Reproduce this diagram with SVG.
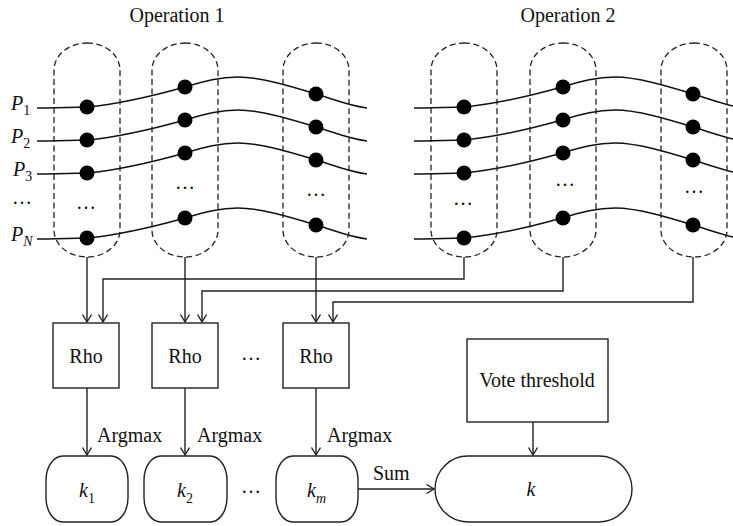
<svg xmlns="http://www.w3.org/2000/svg" width="733" height="526" viewBox="0 0 733 526">
<style>
text{font-family:"Liberation Serif","Times New Roman",serif;font-size:20px;fill:#111}
.it{font-style:italic}
.sub{font-size:14px;font-style:normal}
.subi{font-size:14px;font-style:italic}
.cap{fill:none;stroke:#222;stroke-width:1.3;stroke-dasharray:6 3.5}
.box{fill:#fff;stroke:#222;stroke-width:1.4}
.wire{fill:none;stroke:#111;stroke-width:1.4}
.dot{fill:#000}
.con{fill:none;stroke:#222;stroke-width:1.4}
</style>
<defs>
<marker id="ah" markerUnits="userSpaceOnUse" markerWidth="14" markerHeight="12" refX="9" refY="5" orient="auto">
<path d="M1.5,0.5 L9,5 L1.5,9.5" fill="none" stroke="#222" stroke-width="1.4"/>
</marker>
<path id="w" d="M37,0 C60,0 70,-0.5 87,-1 C120,-4 160,-14 185,-21 C205,-27 220,-31 238,-31 C260,-31 290,-22 316,-14 C336,-8 350,-2 367,0"/>
</defs>

<text x="177" y="22" text-anchor="middle">Operation 1</text>
<text x="568" y="22" text-anchor="middle">Operation 2</text>

<g id="wires">
<use href="#w" class="wire" transform="translate(0,108)"/>
<use href="#w" class="wire" transform="translate(0,141)"/>
<use href="#w" class="wire" transform="translate(0,174)"/>
<use href="#w" class="wire" transform="translate(0,239)"/>
<use href="#w" class="wire" transform="translate(377,108)"/>
<use href="#w" class="wire" transform="translate(377,141)"/>
<use href="#w" class="wire" transform="translate(377,174)"/>
<use href="#w" class="wire" transform="translate(377,239)"/>
</g>

<g id="labels">
<text class="it" x="11" y="110">P<tspan class="sub" dy="5">1</tspan></text>
<text class="it" x="11" y="143">P<tspan class="sub" dy="5">2</tspan></text>
<text class="it" x="13" y="176">P<tspan class="sub" dy="5">3</tspan></text>
<text x="12" y="204">…</text>
<text class="it" x="11" y="241">P<tspan class="subi" dy="5">N</tspan></text>
</g>

<g id="op1-col1">
<rect class="cap" x="54" y="43" width="66" height="214" rx="33" ry="27"/>
<circle class="dot" cx="87" cy="107" r="7.5"/>
<circle class="dot" cx="87" cy="140" r="7.5"/>
<circle class="dot" cx="87" cy="173" r="7.5"/>
<circle class="dot" cx="87" cy="238" r="7.5"/>
<text x="86" y="209" text-anchor="middle">…</text>
</g>
<g id="op1-col2">
<rect class="cap" x="152" y="43" width="66" height="214" rx="33" ry="27"/>
<circle class="dot" cx="185" cy="87" r="7.5"/>
<circle class="dot" cx="185" cy="120" r="7.5"/>
<circle class="dot" cx="185" cy="153" r="7.5"/>
<circle class="dot" cx="185" cy="218" r="7.5"/>
<text x="185" y="189" text-anchor="middle">…</text>
</g>
<g id="op1-col3">
<rect class="cap" x="283" y="43" width="66" height="214" rx="33" ry="27"/>
<circle class="dot" cx="316" cy="94" r="7.5"/>
<circle class="dot" cx="316" cy="127" r="7.5"/>
<circle class="dot" cx="316" cy="160" r="7.5"/>
<circle class="dot" cx="316" cy="225" r="7.5"/>
<text x="316" y="196" text-anchor="middle">…</text>
</g>
<g id="op2-col1">
<rect class="cap" x="431" y="43" width="66" height="214" rx="33" ry="27"/>
<circle class="dot" cx="464" cy="107" r="7.5"/>
<circle class="dot" cx="464" cy="140" r="7.5"/>
<circle class="dot" cx="464" cy="173" r="7.5"/>
<circle class="dot" cx="464" cy="238" r="7.5"/>
<text x="463" y="205" text-anchor="middle">…</text>
</g>
<g id="op2-col2">
<rect class="cap" x="530" y="43" width="66" height="214" rx="33" ry="27"/>
<circle class="dot" cx="563" cy="87" r="7.5"/>
<circle class="dot" cx="563" cy="120" r="7.5"/>
<circle class="dot" cx="563" cy="153" r="7.5"/>
<circle class="dot" cx="563" cy="218" r="7.5"/>
<text x="565" y="186" text-anchor="middle">…</text>
</g>
<g id="op2-col3">
<rect class="cap" x="661" y="43" width="66" height="214" rx="33" ry="27"/>
<circle class="dot" cx="693" cy="94" r="7.5"/>
<circle class="dot" cx="693" cy="127" r="7.5"/>
<circle class="dot" cx="693" cy="160" r="7.5"/>
<circle class="dot" cx="693" cy="225" r="7.5"/>
<text x="694" y="193" text-anchor="middle">…</text>
</g>

<g id="connectors">
<path class="con" d="M87,257 V322" marker-end="url(#ah)"/>
<path class="con" d="M185,257 V322" marker-end="url(#ah)"/>
<path class="con" d="M316,257 V322" marker-end="url(#ah)"/>
<path class="con" d="M464,257 V279 H103 V322" marker-end="url(#ah)"/>
<path class="con" d="M563,257 V291 H202 V322" marker-end="url(#ah)"/>
<path class="con" d="M693,257 V302 H333 V322" marker-end="url(#ah)"/>
<path class="con" d="M87,388 V455" marker-end="url(#ah)"/>
<path class="con" d="M185,388 V455" marker-end="url(#ah)"/>
<path class="con" d="M316,388 V455" marker-end="url(#ah)"/>
<path class="con" d="M358,489 H434" marker-end="url(#ah)"/>
<path class="con" d="M533,422 V455" marker-end="url(#ah)"/>
<text x="97" y="442">Argmax</text>
<text x="197" y="442">Argmax</text>
<text x="327" y="442">Argmax</text>
<text x="373" y="480">Sum</text>
</g>

<g id="rho1"><rect class="box" x="53" y="323" width="66" height="65"/><text x="86" y="363" text-anchor="middle">Rho</text></g>
<g id="rho2"><rect class="box" x="152" y="323" width="66" height="65"/><text x="185" y="363" text-anchor="middle">Rho</text></g>
<text x="251" y="360" text-anchor="middle">…</text>
<g id="rho3"><rect class="box" x="283" y="323" width="66" height="65"/><text x="316" y="363" text-anchor="middle">Rho</text></g>

<g id="vote"><rect class="box" x="467" y="339" width="141" height="83"/><text x="537" y="387" text-anchor="middle">Vote threshold</text></g>

<g id="k1"><rect class="box" x="46" y="456" width="82" height="66" rx="17" ry="24"/><text class="it" x="79" y="497">k<tspan class="sub" dy="6">1</tspan></text></g>
<g id="k2"><rect class="box" x="144" y="456" width="83" height="66" rx="17" ry="24"/><text class="it" x="177" y="497">k<tspan class="sub" dy="6">2</tspan></text></g>
<text x="251" y="493" text-anchor="middle">…</text>
<g id="km"><rect class="box" x="276" y="456" width="82" height="66" rx="17" ry="24"/><text class="it" x="307" y="497">k<tspan class="subi" dy="6">m</tspan></text></g>
<g id="k"><rect class="box" x="435" y="456" width="197" height="66" rx="33" ry="33"/><text class="it" x="531" y="496" text-anchor="middle">k</text></g>
</svg>
